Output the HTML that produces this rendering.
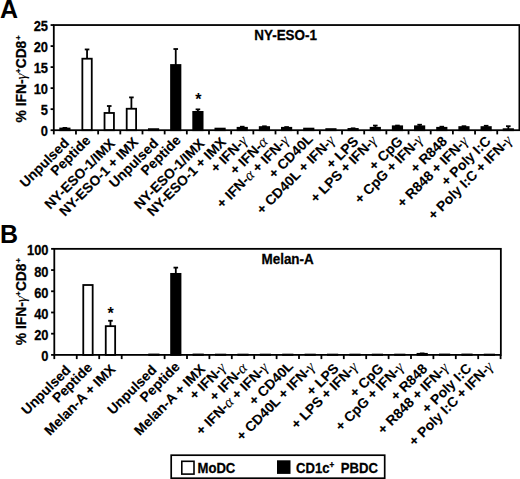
<!DOCTYPE html>
<html><head><meta charset="utf-8"><title>Figure</title><style>
html,body{margin:0;padding:0;background:#fff;}
body{width:520px;height:479px;overflow:hidden;}
svg{display:block;}
text{font-family:"Liberation Sans", sans-serif;font-weight:bold;fill:#000;stroke:#000;stroke-width:0.25px;}
.ln{stroke:#000;stroke-width:1.80;}
.pl{font-size:25px;stroke:none;}
.tk{font-size:12.90px;text-anchor:end;}
.xl{font-size:13.80px;text-anchor:end;stroke-width:0.12px;}
.tt{font-size:13.45px;text-anchor:middle;}
.yl{font-size:13.80px;text-anchor:middle;}
.st{font-size:16px;text-anchor:middle;stroke:none;}
.g{font-family:"Liberation Serif",serif;font-weight:normal;font-style:italic;stroke-width:0.1px;font-size:1.1em;}
.sup{font-size:8px;stroke-width:0.35px;}
.lg{font-size:13.1px;}
.sup2{font-size:8px;stroke-width:0.35px;}
</style></head>
<body><svg width="520" height="479" viewBox="0 0 520 479">
<text x="0.1" y="17.5" class="pl">A</text>
<text x="0" y="242.6" class="pl">B</text>
<text transform="translate(25.70 78.80) rotate(-90)" class="yl">% IFN-<tspan class="g">γ</tspan><tspan class="sup" dy="-4.6" dx="0.3">+</tspan><tspan dy="4.6" dx="0.2">CD8</tspan><tspan class="sup" dy="-4.6" dx="0.8">+</tspan></text>
<text transform="translate(25.70 301.60) rotate(-90)" class="yl">% IFN-<tspan class="g">γ</tspan><tspan class="sup" dy="-4.6" dx="0.3">+</tspan><tspan dy="4.6" dx="0.2">CD8</tspan><tspan class="sup" dy="-4.6" dx="0.8">+</tspan></text>
<line x1="64.89" y1="128.52" x2="64.89" y2="127.89" class="ln"/>
<line x1="62.59" y1="127.89" x2="67.19" y2="127.89" class="ln"/>
<rect x="60.19" y="128.52" width="9.40" height="1.68" fill="white" stroke="#000" stroke-width="1.80"/>
<line x1="87.06" y1="58.70" x2="87.06" y2="49.44" class="ln"/>
<line x1="84.76" y1="49.44" x2="89.36" y2="49.44" class="ln"/>
<rect x="82.36" y="58.70" width="9.40" height="71.50" fill="white" stroke="#000" stroke-width="1.80"/>
<line x1="109.23" y1="112.96" x2="109.23" y2="106.02" class="ln"/>
<line x1="106.93" y1="106.02" x2="111.53" y2="106.02" class="ln"/>
<rect x="104.53" y="112.96" width="9.40" height="17.24" fill="white" stroke="#000" stroke-width="1.80"/>
<line x1="131.40" y1="108.75" x2="131.40" y2="97.39" class="ln"/>
<line x1="129.10" y1="97.39" x2="133.70" y2="97.39" class="ln"/>
<rect x="126.70" y="108.75" width="9.40" height="21.45" fill="white" stroke="#000" stroke-width="1.80"/>
<rect x="148.87" y="129.15" width="9.40" height="1.05" fill="black" stroke="#000" stroke-width="1.80"/>
<line x1="175.74" y1="65.01" x2="175.74" y2="49.02" class="ln"/>
<line x1="173.44" y1="49.02" x2="178.04" y2="49.02" class="ln"/>
<rect x="171.04" y="65.01" width="9.40" height="65.19" fill="black" stroke="#000" stroke-width="1.80"/>
<line x1="197.91" y1="111.90" x2="197.91" y2="109.38" class="ln"/>
<line x1="195.61" y1="109.38" x2="200.21" y2="109.38" class="ln"/>
<rect x="193.21" y="111.90" width="9.40" height="18.30" fill="black" stroke="#000" stroke-width="1.80"/>
<rect x="215.39" y="128.60" width="9.40" height="1.60" fill="black" stroke="#000" stroke-width="1.80"/>
<line x1="242.26" y1="127.80" x2="242.26" y2="126.71" class="ln"/>
<line x1="239.96" y1="126.71" x2="244.56" y2="126.71" class="ln"/>
<rect x="237.56" y="127.80" width="9.40" height="2.40" fill="black" stroke="#000" stroke-width="1.80"/>
<line x1="264.43" y1="127.09" x2="264.43" y2="126.29" class="ln"/>
<line x1="262.13" y1="126.29" x2="266.73" y2="126.29" class="ln"/>
<rect x="259.73" y="127.09" width="9.40" height="3.11" fill="black" stroke="#000" stroke-width="1.80"/>
<line x1="286.60" y1="127.80" x2="286.60" y2="127.05" class="ln"/>
<line x1="284.30" y1="127.05" x2="288.90" y2="127.05" class="ln"/>
<rect x="281.90" y="127.80" width="9.40" height="2.40" fill="black" stroke="#000" stroke-width="1.80"/>
<rect x="304.07" y="128.60" width="9.40" height="1.60" fill="black" stroke="#000" stroke-width="1.80"/>
<rect x="326.24" y="129.11" width="9.40" height="1.09" fill="black" stroke="#000" stroke-width="1.80"/>
<line x1="353.11" y1="128.94" x2="353.11" y2="128.31" class="ln"/>
<line x1="350.81" y1="128.31" x2="355.41" y2="128.31" class="ln"/>
<rect x="348.41" y="128.94" width="9.40" height="1.26" fill="black" stroke="#000" stroke-width="1.80"/>
<line x1="375.29" y1="127.80" x2="375.29" y2="125.57" class="ln"/>
<line x1="372.99" y1="125.57" x2="377.59" y2="125.57" class="ln"/>
<rect x="370.59" y="127.80" width="9.40" height="2.40" fill="black" stroke="#000" stroke-width="1.80"/>
<line x1="397.46" y1="126.29" x2="397.46" y2="125.57" class="ln"/>
<line x1="395.16" y1="125.57" x2="399.76" y2="125.57" class="ln"/>
<rect x="392.76" y="126.29" width="9.40" height="3.91" fill="black" stroke="#000" stroke-width="1.80"/>
<line x1="419.63" y1="126.29" x2="419.63" y2="124.73" class="ln"/>
<line x1="417.33" y1="124.73" x2="421.93" y2="124.73" class="ln"/>
<rect x="414.93" y="126.29" width="9.40" height="3.91" fill="black" stroke="#000" stroke-width="1.80"/>
<line x1="441.80" y1="127.80" x2="441.80" y2="126.71" class="ln"/>
<line x1="439.50" y1="126.71" x2="444.10" y2="126.71" class="ln"/>
<rect x="437.10" y="127.80" width="9.40" height="2.40" fill="black" stroke="#000" stroke-width="1.80"/>
<line x1="463.97" y1="127.09" x2="463.97" y2="126.20" class="ln"/>
<line x1="461.67" y1="126.20" x2="466.27" y2="126.20" class="ln"/>
<rect x="459.27" y="127.09" width="9.40" height="3.11" fill="black" stroke="#000" stroke-width="1.80"/>
<line x1="486.14" y1="127.09" x2="486.14" y2="125.78" class="ln"/>
<line x1="483.84" y1="125.78" x2="488.44" y2="125.78" class="ln"/>
<rect x="481.44" y="127.09" width="9.40" height="3.11" fill="black" stroke="#000" stroke-width="1.80"/>
<line x1="508.31" y1="129.19" x2="508.31" y2="126.20" class="ln"/>
<line x1="506.01" y1="126.20" x2="510.61" y2="126.20" class="ln"/>
<rect x="503.61" y="129.19" width="9.40" height="1.01" fill="black" stroke="#000" stroke-width="1.80"/>
<rect x="53.80" y="25.05" width="465.60" height="105.15" fill="none" stroke="#000" stroke-width="1.80"/>
<line x1="50.60" y1="130.20" x2="53.80" y2="130.20" class="ln"/>
<text transform="translate(48.00 135.79) scale(1 1.080)" class="tk">0</text>
<line x1="50.60" y1="109.17" x2="53.80" y2="109.17" class="ln"/>
<text transform="translate(48.00 114.76) scale(1 1.080)" class="tk">5</text>
<line x1="50.60" y1="88.14" x2="53.80" y2="88.14" class="ln"/>
<text transform="translate(48.00 93.73) scale(1 1.080)" class="tk">10</text>
<line x1="50.60" y1="67.11" x2="53.80" y2="67.11" class="ln"/>
<text transform="translate(48.00 72.70) scale(1 1.080)" class="tk">15</text>
<line x1="50.60" y1="46.08" x2="53.80" y2="46.08" class="ln"/>
<text transform="translate(48.00 51.67) scale(1 1.080)" class="tk">20</text>
<line x1="50.60" y1="25.05" x2="53.80" y2="25.05" class="ln"/>
<text transform="translate(48.00 30.64) scale(1 1.080)" class="tk">25</text>
<line x1="53.80" y1="130.20" x2="53.80" y2="134.40" class="ln"/>
<line x1="75.97" y1="130.20" x2="75.97" y2="134.40" class="ln"/>
<line x1="98.14" y1="130.20" x2="98.14" y2="134.40" class="ln"/>
<line x1="120.31" y1="130.20" x2="120.31" y2="134.40" class="ln"/>
<line x1="142.49" y1="130.20" x2="142.49" y2="134.40" class="ln"/>
<line x1="164.66" y1="130.20" x2="164.66" y2="134.40" class="ln"/>
<line x1="186.83" y1="130.20" x2="186.83" y2="134.40" class="ln"/>
<line x1="209.00" y1="130.20" x2="209.00" y2="134.40" class="ln"/>
<line x1="231.17" y1="130.20" x2="231.17" y2="134.40" class="ln"/>
<line x1="253.34" y1="130.20" x2="253.34" y2="134.40" class="ln"/>
<line x1="275.51" y1="130.20" x2="275.51" y2="134.40" class="ln"/>
<line x1="297.69" y1="130.20" x2="297.69" y2="134.40" class="ln"/>
<line x1="319.86" y1="130.20" x2="319.86" y2="134.40" class="ln"/>
<line x1="342.03" y1="130.20" x2="342.03" y2="134.40" class="ln"/>
<line x1="364.20" y1="130.20" x2="364.20" y2="134.40" class="ln"/>
<line x1="386.37" y1="130.20" x2="386.37" y2="134.40" class="ln"/>
<line x1="408.54" y1="130.20" x2="408.54" y2="134.40" class="ln"/>
<line x1="430.71" y1="130.20" x2="430.71" y2="134.40" class="ln"/>
<line x1="452.89" y1="130.20" x2="452.89" y2="134.40" class="ln"/>
<line x1="475.06" y1="130.20" x2="475.06" y2="134.40" class="ln"/>
<line x1="497.23" y1="130.20" x2="497.23" y2="134.40" class="ln"/>
<text transform="translate(66.39 140.30) scale(1 1.000) rotate(-45)" class="xl" dy="4.97">Unpulsed</text>
<text transform="translate(87.92 137.82) scale(1 1.000) rotate(-45)" class="xl" dy="4.97">Peptide</text>
<text transform="translate(112.25 140.85) scale(1 1.000) rotate(-45)" class="xl" dy="4.97">NY-ESO-1/IMX</text>
<text transform="translate(135.58 139.57) scale(1 1.000) rotate(-45)" class="xl" dy="4.97">NY-ESO-1 + IMX</text>
<text transform="translate(155.61 140.60) scale(1 1.000) rotate(-45)" class="xl" dy="4.97">Unpulsed</text>
<text transform="translate(178.24 137.52) scale(1 1.000) rotate(-45)" class="xl" dy="4.97">Peptide</text>
<text transform="translate(201.77 140.85) scale(1 1.000) rotate(-45)" class="xl" dy="4.97">NY-ESO-1/IMX</text>
<text transform="translate(223.31 139.57) scale(1 1.000) rotate(-45)" class="xl" dy="4.97">NY-ESO-1 + IMX</text>
<text transform="translate(244.34 138.30) scale(1 1.000) rotate(-45)" class="xl" dy="4.97">+ IFN-<tspan class="g">γ</tspan></text>
<text transform="translate(265.07 139.02) scale(1 1.000) rotate(-45)" class="xl" dy="4.97">+ IFN-<tspan class="g">α</tspan></text>
<text transform="translate(286.10 138.05) scale(1 1.000) rotate(-45)" class="xl" dy="4.97">+ IFN-<tspan class="g">α</tspan> + IFN-<tspan class="g">γ</tspan></text>
<text transform="translate(310.13 136.38) scale(1 1.000) rotate(-45)" class="xl" dy="4.97">+ CD40L</text>
<text transform="translate(332.06 137.90) scale(1 1.000) rotate(-45)" class="xl" dy="4.97">+ CD40L + IFN-<tspan class="g">γ</tspan></text>
<text transform="translate(355.69 138.62) scale(1 1.000) rotate(-45)" class="xl" dy="4.97">+ LPS</text>
<text transform="translate(374.08 138.25) scale(1 1.000) rotate(-45)" class="xl" dy="4.97">+ LPS + IFN-<tspan class="g">γ</tspan></text>
<text transform="translate(399.96 138.67) scale(1 1.000) rotate(-45)" class="xl" dy="4.97">+ CpG</text>
<text transform="translate(419.99 137.60) scale(1 1.000) rotate(-45)" class="xl" dy="4.97">+ CpG + IFN-<tspan class="g">γ</tspan></text>
<text transform="translate(444.32 138.52) scale(1 1.000) rotate(-45)" class="xl" dy="4.97">+ R848</text>
<text transform="translate(465.15 138.75) scale(1 1.000) rotate(-45)" class="xl" dy="4.97">+ R848 + IFN-<tspan class="g">γ</tspan></text>
<text transform="translate(487.98 138.37) scale(1 1.000) rotate(-45)" class="xl" dy="4.97">+ Poly I:C</text>
<text transform="translate(509.21 138.00) scale(1 1.000) rotate(-45)" class="xl" dy="4.97">+ Poly I:C + IFN-<tspan class="g">γ</tspan></text>
<text transform="translate(285.60 40.25) scale(1 1.080)" class="tt">NY-ESO-1</text>
<text x="198.40" y="105.00" class="st">*</text>
<rect x="83.27" y="285.01" width="9.40" height="69.89" fill="white" stroke="#000" stroke-width="1.80"/>
<line x1="110.45" y1="326.16" x2="110.45" y2="320.75" class="ln"/>
<line x1="108.15" y1="320.75" x2="112.75" y2="320.75" class="ln"/>
<rect x="105.75" y="326.16" width="9.40" height="28.74" fill="white" stroke="#000" stroke-width="1.80"/>
<rect x="149.18" y="354.48" width="9.40" height="0.42" fill="black" stroke="#000" stroke-width="1.80"/>
<line x1="175.80" y1="273.88" x2="175.80" y2="267.62" class="ln"/>
<line x1="173.50" y1="267.62" x2="178.10" y2="267.62" class="ln"/>
<rect x="171.10" y="273.88" width="9.40" height="81.02" fill="black" stroke="#000" stroke-width="1.80"/>
<rect x="193.50" y="354.48" width="9.40" height="0.42" fill="black" stroke="#000" stroke-width="1.80"/>
<rect x="215.90" y="354.58" width="9.40" height="0.32" fill="black" stroke="#000" stroke-width="1.80"/>
<rect x="238.30" y="354.58" width="9.40" height="0.32" fill="black" stroke="#000" stroke-width="1.80"/>
<rect x="260.70" y="354.58" width="9.40" height="0.32" fill="black" stroke="#000" stroke-width="1.80"/>
<rect x="283.10" y="354.58" width="9.40" height="0.32" fill="black" stroke="#000" stroke-width="1.80"/>
<rect x="305.50" y="354.58" width="9.40" height="0.32" fill="black" stroke="#000" stroke-width="1.80"/>
<rect x="327.90" y="354.58" width="9.40" height="0.32" fill="black" stroke="#000" stroke-width="1.80"/>
<rect x="350.30" y="354.58" width="9.40" height="0.32" fill="black" stroke="#000" stroke-width="1.80"/>
<rect x="372.70" y="354.58" width="9.40" height="0.32" fill="black" stroke="#000" stroke-width="1.80"/>
<rect x="395.10" y="354.58" width="9.40" height="0.32" fill="black" stroke="#000" stroke-width="1.80"/>
<line x1="422.20" y1="353.84" x2="422.20" y2="353.42" class="ln"/>
<line x1="419.90" y1="353.42" x2="424.50" y2="353.42" class="ln"/>
<rect x="417.50" y="353.84" width="9.40" height="1.06" fill="black" stroke="#000" stroke-width="1.80"/>
<rect x="439.90" y="354.48" width="9.40" height="0.42" fill="black" stroke="#000" stroke-width="1.80"/>
<rect x="462.30" y="354.48" width="9.40" height="0.42" fill="black" stroke="#000" stroke-width="1.80"/>
<rect x="484.70" y="354.58" width="9.40" height="0.32" fill="black" stroke="#000" stroke-width="1.80"/>
<rect x="54.30" y="248.85" width="446.55" height="106.05" fill="none" stroke="#000" stroke-width="1.80"/>
<line x1="51.10" y1="354.90" x2="54.30" y2="354.90" class="ln"/>
<text transform="translate(48.50 361.39) scale(1 1.080)" class="tk">0</text>
<line x1="51.10" y1="333.69" x2="54.30" y2="333.69" class="ln"/>
<text transform="translate(48.50 340.18) scale(1 1.080)" class="tk">20</text>
<line x1="51.10" y1="312.48" x2="54.30" y2="312.48" class="ln"/>
<text transform="translate(48.50 318.97) scale(1 1.080)" class="tk">40</text>
<line x1="51.10" y1="291.27" x2="54.30" y2="291.27" class="ln"/>
<text transform="translate(48.50 297.76) scale(1 1.080)" class="tk">60</text>
<line x1="51.10" y1="270.06" x2="54.30" y2="270.06" class="ln"/>
<text transform="translate(48.50 276.55) scale(1 1.080)" class="tk">80</text>
<line x1="51.10" y1="248.85" x2="54.30" y2="248.85" class="ln"/>
<text transform="translate(48.50 255.34) scale(1 1.080)" class="tk">100</text>
<line x1="54.30" y1="354.90" x2="54.30" y2="359.10" class="ln"/>
<line x1="76.75" y1="354.90" x2="76.75" y2="359.10" class="ln"/>
<line x1="99.20" y1="354.90" x2="99.20" y2="359.10" class="ln"/>
<line x1="121.70" y1="354.90" x2="121.70" y2="359.10" class="ln"/>
<line x1="164.60" y1="354.90" x2="164.60" y2="359.10" class="ln"/>
<line x1="187.00" y1="354.90" x2="187.00" y2="359.10" class="ln"/>
<line x1="209.40" y1="354.90" x2="209.40" y2="359.10" class="ln"/>
<line x1="231.80" y1="354.90" x2="231.80" y2="359.10" class="ln"/>
<line x1="254.20" y1="354.90" x2="254.20" y2="359.10" class="ln"/>
<line x1="276.60" y1="354.90" x2="276.60" y2="359.10" class="ln"/>
<line x1="299.00" y1="354.90" x2="299.00" y2="359.10" class="ln"/>
<line x1="321.40" y1="354.90" x2="321.40" y2="359.10" class="ln"/>
<line x1="343.80" y1="354.90" x2="343.80" y2="359.10" class="ln"/>
<line x1="366.20" y1="354.90" x2="366.20" y2="359.10" class="ln"/>
<line x1="388.60" y1="354.90" x2="388.60" y2="359.10" class="ln"/>
<line x1="411.00" y1="354.90" x2="411.00" y2="359.10" class="ln"/>
<line x1="433.40" y1="354.90" x2="433.40" y2="359.10" class="ln"/>
<line x1="455.80" y1="354.90" x2="455.80" y2="359.10" class="ln"/>
<line x1="478.20" y1="354.90" x2="478.20" y2="359.10" class="ln"/>
<line x1="500.60" y1="354.90" x2="500.60" y2="359.10" class="ln"/>
<text transform="translate(68.03 367.50) scale(1 1.000) rotate(-45)" class="xl" dy="4.97">Unpulsed</text>
<text transform="translate(89.62 364.85) scale(1 1.000) rotate(-45)" class="xl" dy="4.97">Peptide</text>
<text transform="translate(112.64 366.59) scale(1 1.000) rotate(-45)" class="xl" dy="4.97">Melan-A + IMX</text>
<text transform="translate(153.96 367.29) scale(1 1.000) rotate(-45)" class="xl" dy="4.97">Unpulsed</text>
<text transform="translate(177.24 364.14) scale(1 1.000) rotate(-45)" class="xl" dy="4.97">Peptide</text>
<text transform="translate(202.38 366.58) scale(1 1.000) rotate(-45)" class="xl" dy="4.97">Melan-A + IMX</text>
<text transform="translate(223.03 365.33) scale(1 1.000) rotate(-45)" class="xl" dy="4.97">+ IFN-<tspan class="g">γ</tspan></text>
<text transform="translate(244.58 365.38) scale(1 1.000) rotate(-45)" class="xl" dy="4.97">+ IFN-<tspan class="g">α</tspan></text>
<text transform="translate(265.43 365.03) scale(1 1.000) rotate(-45)" class="xl" dy="4.97">+ IFN-<tspan class="g">α</tspan> + IFN-<tspan class="g">γ</tspan></text>
<text transform="translate(290.37 363.47) scale(1 1.000) rotate(-45)" class="xl" dy="4.97">+ CD40L</text>
<text transform="translate(311.92 364.52) scale(1 1.000) rotate(-45)" class="xl" dy="4.97">+ CD40L + IFN-<tspan class="g">γ</tspan></text>
<text transform="translate(335.97 365.67) scale(1 1.000) rotate(-45)" class="xl" dy="4.97">+ LPS</text>
<text transform="translate(354.92 364.52) scale(1 1.000) rotate(-45)" class="xl" dy="4.97">+ LPS + IFN-<tspan class="g">γ</tspan></text>
<text transform="translate(380.76 365.66) scale(1 1.000) rotate(-45)" class="xl" dy="4.97">+ CpG</text>
<text transform="translate(400.91 364.81) scale(1 1.000) rotate(-45)" class="xl" dy="4.97">+ CpG + IFN-<tspan class="g">γ</tspan></text>
<text transform="translate(424.56 366.16) scale(1 1.000) rotate(-45)" class="xl" dy="4.97">+ R848</text>
<text transform="translate(445.71 365.31) scale(1 1.000) rotate(-45)" class="xl" dy="4.97">+ R848 + IFN-<tspan class="g">γ</tspan></text>
<text transform="translate(468.75 365.75) scale(1 1.000) rotate(-45)" class="xl" dy="4.97">+ Poly I:C</text>
<text transform="translate(490.10 364.20) scale(1 1.000) rotate(-45)" class="xl" dy="4.97">+ Poly I:C + IFN-<tspan class="g">γ</tspan></text>
<text transform="translate(287.60 264.05) scale(1 1.080)" class="tt">Melan-A</text>
<text x="110.50" y="319.00" class="st">*</text>
<rect x="171.2" y="455.2" width="213.5" height="23.0" fill="none" stroke="#000" stroke-width="1.7"/>
<rect x="181.8" y="461.3" width="12.2" height="12.8" fill="#fff" stroke="#000" stroke-width="1.6"/>
<text transform="translate(197.5 473.3) scale(1 1.080)" class="lg">MoDC</text>
<rect x="277.0" y="460.3" width="13.5" height="13.6" fill="#000"/>
<text transform="translate(296.0 473.3) scale(1 1.080)" class="lg">CD1c<tspan class="sup2" dy="-5">+</tspan><tspan dy="5" dx="3.0"> PBDC</tspan></text>
</svg></body></html>
